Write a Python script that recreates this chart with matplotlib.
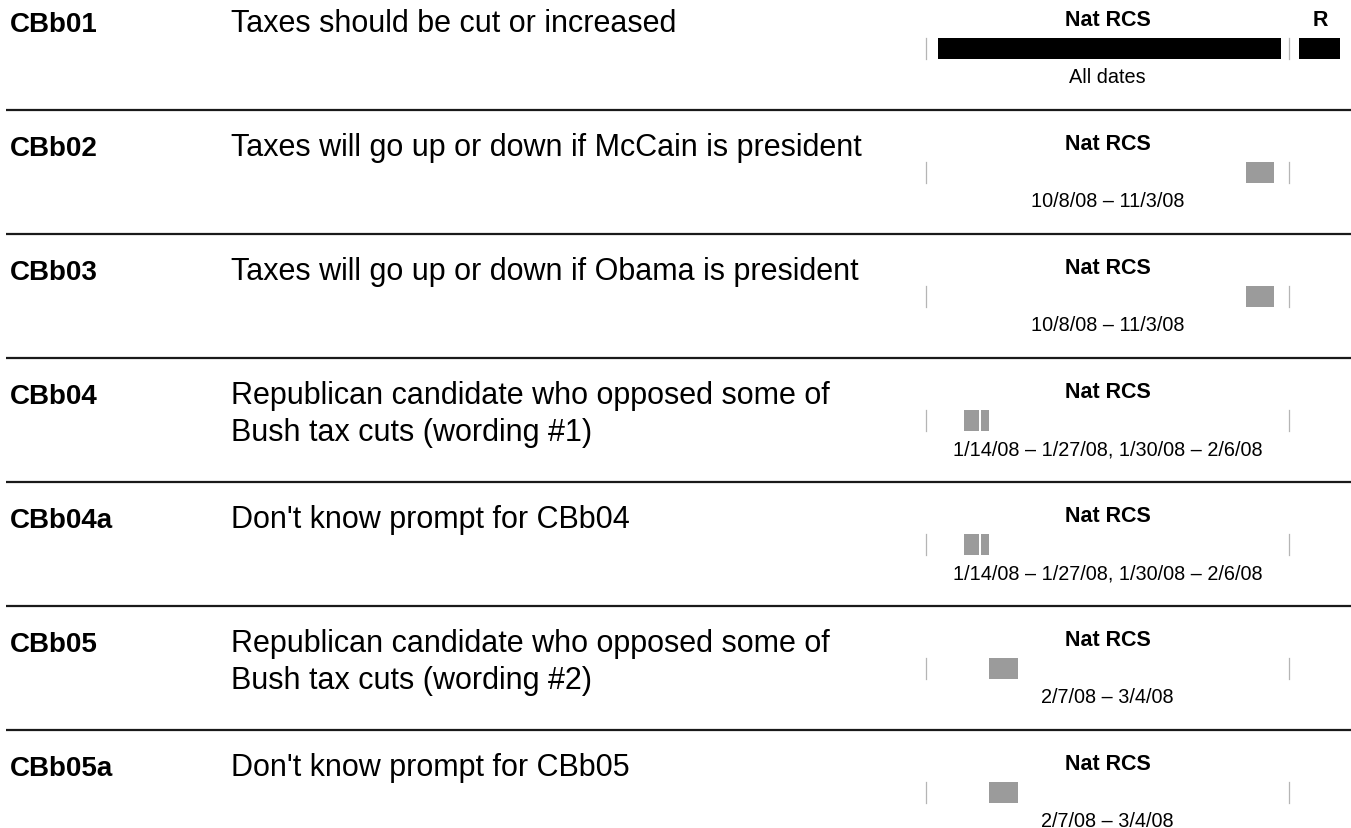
import matplotlib
matplotlib.use("Agg")
import matplotlib.pyplot as plt
import matplotlib.dates as mdates
import pandas as pd

# ---------------- data ----------------
codes = ["CBb01", "CBb02", "CBb03", "CBb04", "CBb04a", "CBb05", "CBb05a"]
descriptions = [
    "Taxes should be cut or increased",
    "Taxes will go up or down if McCain is president",
    "Taxes will go up or down if Obama is president",
    "Republican candidate who opposed some of\nBush tax cuts (wording #1)",
    "Don't know prompt for CBb04",
    "Republican candidate who opposed some of\nBush tax cuts (wording #2)",
    "Don't know prompt for CBb05",
]
panel_titles = ["Nat RCS"] * 7
date_labels = [
    "All dates",
    "10/8/08 \u2013 11/3/08",
    "10/8/08 \u2013 11/3/08",
    "1/14/08 \u2013 1/27/08, 1/30/08 \u2013 2/6/08",
    "1/14/08 \u2013 1/27/08, 1/30/08 \u2013 2/6/08",
    "2/7/08 \u2013 3/4/08",
    "2/7/08 \u2013 3/4/08",
]
field_ranges = [
    [("2007-12-20", "2008-11-09")],
    [("2008-10-08", "2008-11-03")],
    [("2008-10-08", "2008-11-03")],
    [("2008-01-14", "2008-01-27"), ("2008-01-30", "2008-02-06")],
    [("2008-01-14", "2008-01-27"), ("2008-01-30", "2008-02-06")],
    [("2008-02-07", "2008-03-04")],
    [("2008-02-07", "2008-03-04")],
]
all_dates = [True, False, False, False, False, False, False]
recontact = [True, False, False, False, False, False, False]
recontact_title = "R"

# timeline limits (axis frame)
timeline_start = "2007-12-09"
timeline_end = "2008-11-18"

# ---------------- layout ----------------
W, H = 1351, 829
fig = plt.figure(figsize=(W / 100, H / 100), dpi=100)
fig.patch.set_facecolor("white")
plt.rcParams["font.family"] = ["Liberation Sans", "DejaVu Sans"]

ov = fig.add_axes([0, 0, 1, 1])
ov.set_xlim(0, W)
ov.set_ylim(H, 0)
ov.axis("off")

pitch = 124
top0 = -13
tl_x0, tl_x1 = 926, 1289
r_x0, r_x1 = 1299, 1340
panel_cx = (tl_x0 + tl_x1) / 2


def px_rect(x0, y0, x1, y1):
    return [x0 / W, 1 - y1 / H, (x1 - x0) / W, (y1 - y0) / H]


for k, code in enumerate(codes):
    L = top0 + pitch * k
    if k > 0:
        ov.plot([6, W], [L, L], color="#1a1a1a", lw=1.6, solid_capstyle="butt")
    ov.text(10, L + 45, code, fontsize=20, fontweight="bold", va="baseline",
            ha="left", color="black")
    for i, line in enumerate(descriptions[k].split("\n")):
        ov.text(231, L + 45 + 37 * i, line, fontsize=22, va="baseline",
                ha="left", color="black")
    ov.text(panel_cx, L + 39, panel_titles[k], fontsize=15.5, fontweight="bold",
            va="baseline", ha="center", color="black")
    ov.text(panel_cx, L + 96, date_labels[k], fontsize=14.3, va="baseline",
            ha="center", color="black")

    # timeline axis
    ax = fig.add_axes(px_rect(tl_x0, L + 52, tl_x1, L + 73))
    ax.set_xlim(mdates.date2num(pd.Timestamp(timeline_start)),
                mdates.date2num(pd.Timestamp(timeline_end)))
    ax.set_ylim(0, 1)
    color = "black" if all_dates[k] else "#9b9b9b"
    spans = []
    for s, e in field_ranges[k]:
        s0 = mdates.date2num(pd.Timestamp(s))
        e0 = mdates.date2num(pd.Timestamp(e) + pd.Timedelta(days=1))
        spans.append((s0, e0 - s0))
    ax.broken_barh(spans, (0, 1), facecolors=color, edgecolor="none")
    ax.set_xticks([])
    ax.set_yticks([])
    for side in ["top", "bottom"]:
        ax.spines[side].set_visible(False)
    for side in ["left", "right"]:
        ax.spines[side].set_color("#b5b5b5")
        ax.spines[side].set_linewidth(0.9)
    ax.patch.set_alpha(0)

    if recontact[k]:
        ov.text((r_x0 + r_x1) / 2 + 1, L + 39, recontact_title, fontsize=15.5,
                fontweight="bold", va="baseline", ha="center", color="black")
        axr = fig.add_axes(px_rect(r_x0, L + 52, r_x1, L + 73))
        axr.set_xlim(0, 1)
        axr.set_ylim(0, 1)
        axr.broken_barh([(0, 1)], (0, 1), facecolors="black", edgecolor="none")
        axr.axis("off")

fig.savefig("out.png", dpi=100, facecolor="white")
